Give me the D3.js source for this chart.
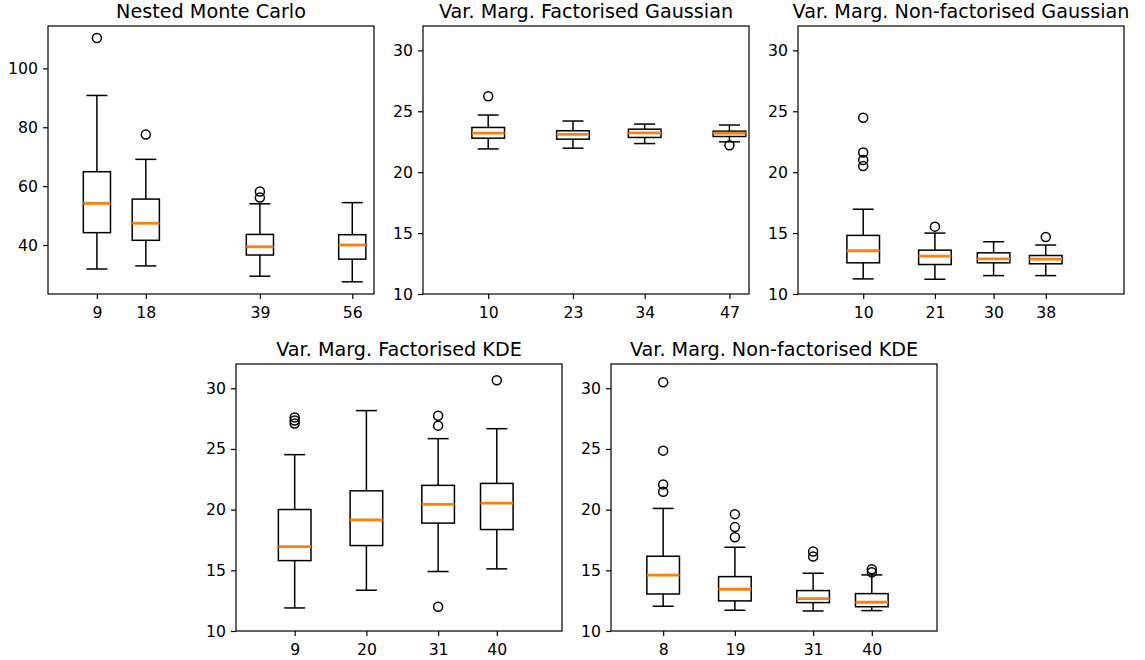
<!DOCTYPE html>
<html>
<head>
<meta charset="utf-8">
<script src="https://cdnjs.cloudflare.com/ajax/libs/d3/7.8.5/d3.min.js"></script>
<style>
  body { margin: 0; background: #fff; }
  svg { display: block; }
  text { font-family: "DejaVu Sans", sans-serif; fill: #000; }
</style>
</head>
<body>
<div id="chart"></div>
<script>
// box stats are [lower whisker, Q1, median, Q3, upper whisker]
const nmcPos = [9, 18, 39, 56];
const nmcBoxes = [
  [31.85, 44.2, 54.15, 64.9, 90.8],
  [32.9, 41.6, 47.4, 55.6, 69.1],
  [29.4, 36.6, 39.4, 43.6, 54.0],
  [27.5, 35.2, 40.0, 43.5, 54.4]
];
const nmcOutliers = [[110.3], [77.5], [58.2, 56.1], []];

const fgPos = [10, 23, 34, 47];
const fgBoxes = [
  [21.91, 22.79, 23.2, 23.67, 24.69],
  [21.97, 22.71, 23.1, 23.4, 24.2],
  [22.35, 22.85, 23.23, 23.53, 23.95],
  [22.49, 22.93, 23.2, 23.37, 23.87]
];
const fgOutliers = [[26.23], [], [], [22.21]];

const nfgPos = [10, 21, 30, 38];
const nfgBoxes = [
  [11.24, 12.56, 13.55, 14.81, 16.96],
  [11.21, 12.42, 13.11, 13.6, 15.0],
  [11.51, 12.56, 12.89, 13.38, 14.29],
  [11.51, 12.48, 12.86, 13.16, 14.02]
];
const nfgOutliers = [[24.47, 21.61, 21.0, 20.5], [15.53], [], [14.68]];

const fkPos = [9, 20, 31, 40];
const fkBoxes = [
  [11.9, 15.8, 16.96, 20.01, 24.53],
  [13.36, 17.04, 19.16, 21.55, 28.16],
  [14.9, 18.89, 20.43, 22.0, 25.85],
  [15.12, 18.36, 20.54, 22.16, 26.67]
];
const fkOutliers = [[27.6, 27.35, 27.1], [], [27.74, 26.92, 12.0], [30.66]];

const nfkPos = [8, 19, 31, 40];
const nfkBoxes = [
  [12.04, 13.05, 14.6, 16.16, 20.1],
  [11.71, 12.48, 13.44, 14.48, 16.9],
  [11.65, 12.34, 12.67, 13.33, 14.76],
  [11.68, 12.0, 12.37, 13.08, 14.62]
];
const nfkOutliers = [[30.5, 24.86, 22.08, 21.47], [19.63, 18.56, 17.73], [16.55, 16.13], [15.09, 14.84]];

const titles = [
  "Nested Monte Carlo",
  "Var. Marg. Factorised Gaussian",
  "Var. Marg. Non-factorised Gaussian",
  "Var. Marg. Factorised KDE",
  "Var. Marg. Non-factorised KDE"
];
const xDomains = [[0, 60], [0, 50], [0, 50], [0, 50], [0, 50]];
const yDomains = [[23.36, 114.4], [10, 32], [10, 32], [10, 32], [10, 32]];
const yTicks = [[40, 60, 80, 100], [10, 15, 20, 25, 30], [10, 15, 20, 25, 30], [10, 15, 20, 25, 30], [10, 15, 20, 25, 30]];

const panels = [
  { pos: nmcPos, boxes: nmcBoxes, outliers: nmcOutliers },
  { pos: fgPos, boxes: fgBoxes, outliers: fgOutliers },
  { pos: nfgPos, boxes: nfgBoxes, outliers: nfgOutliers },
  { pos: fkPos, boxes: fkBoxes, outliers: fkOutliers },
  { pos: nfkPos, boxes: nfkBoxes, outliers: nfkOutliers }
];

// axes frames in pixels: left, top, width, height
const frames = [
  { left: 48, top: 26, w: 326, h: 268 },
  { left: 423, top: 26, w: 326, h: 268 },
  { left: 798, top: 26, w: 326, h: 268 },
  { left: 236, top: 364, w: 326, h: 267 },
  { left: 611, top: 364, w: 326, h: 267 }
];

const boxWidth = 5;      // data units
const capHalf = 10.5;    // px
const orange = "#ff7f0e";

const svg = d3.select("#chart").append("svg")
  .attr("width", 1145)
  .attr("height", 660);

panels.forEach((p, i) => {
  const f = frames[i];
  const g = svg.append("g").attr("transform", `translate(${f.left},${f.top})`);

  const x = d3.scaleLinear().domain(xDomains[i]).range([0, f.w]);
  const y = d3.scaleLinear().domain(yDomains[i]).range([f.h, 0]);

  const xAxis = g.append("g")
    .attr("transform", `translate(0,${f.h})`)
    .call(d3.axisBottom(x).tickValues(p.pos).tickFormat(d3.format("d")).tickSize(5).tickPadding(5).tickSizeOuter(0));
  const yAxis = g.append("g")
    .call(d3.axisLeft(y).tickValues(yTicks[i]).tickFormat(d3.format("d")).tickSize(5).tickPadding(5).tickSizeOuter(0));

  [xAxis, yAxis].forEach(a => {
    a.select(".domain").remove();
    a.selectAll("line").attr("stroke", "#000").attr("stroke-width", 1.2);
    a.selectAll("text").style("font-size", "15.7px").style("font-family", "DejaVu Sans");
  });
  xAxis.selectAll("text").attr("dy", "0.9em");

  const boxes = g.selectAll(".box")
    .data(p.boxes.map((b, k) => ({ pos: p.pos[k], b, out: p.outliers[k] })))
    .enter().append("g");

  // whiskers
  boxes.append("line")
    .attr("x1", d => x(d.pos)).attr("x2", d => x(d.pos))
    .attr("y1", d => y(d.b[1])).attr("y2", d => y(d.b[0]))
    .attr("stroke", "#000").attr("stroke-width", 1.5);
  boxes.append("line")
    .attr("x1", d => x(d.pos)).attr("x2", d => x(d.pos))
    .attr("y1", d => y(d.b[3])).attr("y2", d => y(d.b[4]))
    .attr("stroke", "#000").attr("stroke-width", 1.5);

  // caps
  [0, 4].forEach(j => {
    boxes.append("line")
      .attr("x1", d => x(d.pos) - capHalf).attr("x2", d => x(d.pos) + capHalf)
      .attr("y1", d => y(d.b[j])).attr("y2", d => y(d.b[j]))
      .attr("stroke", "#000").attr("stroke-width", 1.5);
  });

  // box
  boxes.append("rect")
    .attr("x", d => x(d.pos - boxWidth / 2))
    .attr("width", d => x(d.pos + boxWidth / 2) - x(d.pos - boxWidth / 2))
    .attr("y", d => y(d.b[3]))
    .attr("height", d => y(d.b[1]) - y(d.b[3]))
    .attr("fill", "none").attr("stroke", "#000").attr("stroke-width", 1.5);

  // median
  boxes.append("line")
    .attr("x1", d => x(d.pos - boxWidth / 2)).attr("x2", d => x(d.pos + boxWidth / 2))
    .attr("y1", d => y(d.b[2])).attr("y2", d => y(d.b[2]))
    .attr("stroke", orange).attr("stroke-width", 2.8);

  // fliers
  boxes.selectAll("circle")
    .data(d => d.out.map(v => ({ pos: d.pos, v })))
    .enter().append("circle")
    .attr("cx", d => x(d.pos))
    .attr("cy", d => y(d.v))
    .attr("r", 4.5)
    .attr("fill", "none").attr("stroke", "#000").attr("stroke-width", 1.5);

  // frame
  g.append("rect")
    .attr("width", f.w).attr("height", f.h)
    .attr("fill", "none").attr("stroke", "#000").attr("stroke-width", 1.2);

  g.append("text")
    .attr("x", f.w / 2)
    .attr("y", -8)
    .attr("text-anchor", "middle")
    .style("font-size", "19.2px")
    .text(titles[i]);
});
</script>
</body>
</html>
